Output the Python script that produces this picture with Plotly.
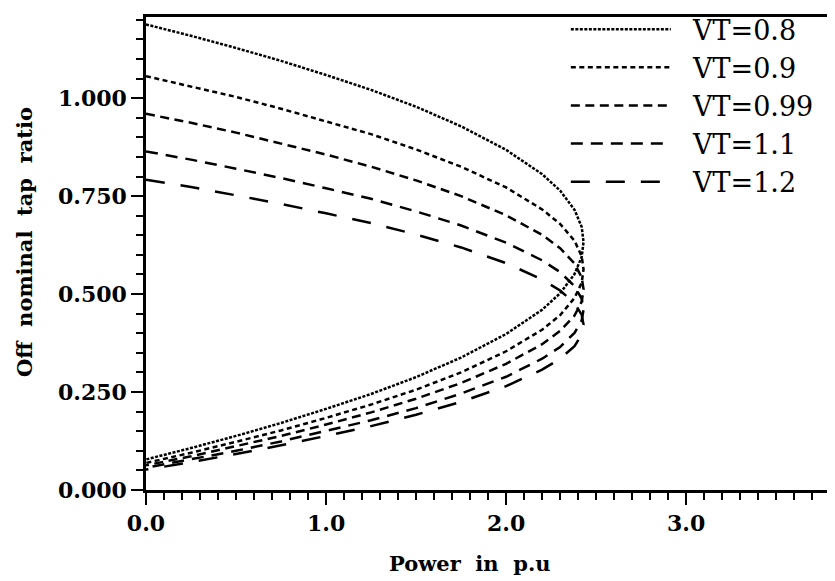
import plotly.graph_objects as go

# Power (p.u.) sampled along each nose curve: upper branch out to the nose, lower branch back
power = [0, 0.25, 0.5, 0.75, 1.0, 1.25, 1.5, 1.75, 2.0, 2.2, 2.3, 2.38, 2.42, 2.43,
         2.42, 2.38, 2.3, 2.2, 2.0, 1.75, 1.5, 1.25, 1.0, 0.75, 0.5, 0.25, 0]

tap_vt080 = [1.188, 1.159, 1.128, 1.095, 1.059, 1.021, 0.978, 0.928, 0.868, 0.806, 0.764, 0.715, 0.671, 0.633,
             0.595, 0.551, 0.502, 0.460, 0.398, 0.338, 0.288, 0.245, 0.207, 0.171, 0.138, 0.107, 0.078]
tap_vt090 = [1.056, 1.030, 1.003, 0.973, 0.941, 0.908, 0.869, 0.825, 0.772, 0.716, 0.679, 0.636, 0.596, 0.563,
             0.529, 0.490, 0.446, 0.409, 0.354, 0.300, 0.256, 0.218, 0.184, 0.152, 0.123, 0.095, 0.069]
tap_vt099 = [0.960, 0.937, 0.912, 0.885, 0.856, 0.825, 0.790, 0.750, 0.701, 0.651, 0.617, 0.578, 0.542, 0.512,
             0.481, 0.445, 0.406, 0.372, 0.322, 0.273, 0.233, 0.198, 0.167, 0.138, 0.112, 0.086, 0.063]
tap_vt110 = [0.864, 0.843, 0.820, 0.796, 0.770, 0.743, 0.711, 0.675, 0.631, 0.586, 0.556, 0.520, 0.488, 0.460,
             0.433, 0.401, 0.365, 0.335, 0.289, 0.246, 0.209, 0.178, 0.151, 0.124, 0.100, 0.078, 0.057]
tap_vt120 = [0.792, 0.773, 0.752, 0.730, 0.706, 0.681, 0.652, 0.619, 0.579, 0.537, 0.509, 0.477, 0.447, 0.422,
             0.397, 0.367, 0.335, 0.307, 0.265, 0.225, 0.192, 0.163, 0.138, 0.114, 0.092, 0.071, 0.052]

series_names = ["VT=0.8", "VT=0.9", "VT=0.99", "VT=1.1", "VT=1.2"]
series_values = [tap_vt080, tap_vt090, tap_vt099, tap_vt110, tap_vt120]
dash_styles = ["3px,1.5px", "5px,3.5px", "9px,5.5px", "12px,8px", "19px,16px"]

x_tickvals = [0, 1, 2, 3]
x_ticktext = ["0.0", "1.0", "2.0", "3.0"]
y_tickvals = [0, 0.25, 0.5, 0.75, 1.0]
y_ticktext = ["0.000", "0.250", "0.500", "0.750", "1.000"]

fig = go.Figure()
for name, vals, dash in zip(series_names, series_values, dash_styles):
    fig.add_trace(go.Scatter(x=power, y=vals, mode="lines", name="\u00a0\u00a0" + name,
                             line=dict(color="black", width=2.5, dash=dash)))

tickfont = dict(family="DejaVu Serif", size=22, color="black", weight="bold")

# the page body adds an 8px offset, so the figure is 8px smaller and margins compensate
fig.update_layout(
    width=827, height=573,
    margin=dict(l=138, r=3, t=9, b=91, autoexpand=False),
    paper_bgcolor="white", plot_bgcolor="white",
    showlegend=True,
    legend=dict(x=0.612, y=1.025, xanchor="left", yanchor="top",
                bgcolor="rgba(0,0,0,0)", borderwidth=0,
                font=dict(family="DejaVu Serif", size=27, color="black"),
                itemwidth=100, tracegroupgap=0),
    xaxis=dict(range=[0, 3.81], showgrid=False, zeroline=False,
               showline=True, linecolor="black", linewidth=2.5, mirror=True,
               ticks="outside", ticklen=12, tickwidth=2, tickcolor="black",
               tickvals=x_tickvals, ticktext=x_ticktext, tickfont=tickfont,
               minor=dict(dtick=0.1, tick0=0, ticks="outside", ticklen=7,
                          tickwidth=2, tickcolor="black", showgrid=False)),
    yaxis=dict(range=[0, 1.207], showgrid=False, zeroline=False,
               showline=True, linecolor="black", linewidth=2.5, mirror=True,
               ticks="outside", ticklen=12, tickwidth=2, tickcolor="black",
               tickvals=y_tickvals, ticktext=y_ticktext, tickfont=tickfont,
               minor=dict(dtick=0.05, tick0=0, ticks="outside", ticklen=7,
                          tickwidth=2, tickcolor="black", showgrid=False)),
    annotations=[
        dict(text="Power  in  p.u", xref="paper", yref="paper", x=0.472, y=-0.155,
             showarrow=False, xanchor="center", yanchor="middle",
             font=dict(family="DejaVu Serif", size=21, color="black", weight="bold")),
        dict(text="Off  nominal  tap  ratio", xref="paper", yref="paper", x=-0.178, y=0.524,
             showarrow=False, xanchor="center", yanchor="middle", textangle=-90,
             font=dict(family="DejaVu Serif", size=21, color="black", weight="bold")),
    ],
)

fig.write_html("out.html")
